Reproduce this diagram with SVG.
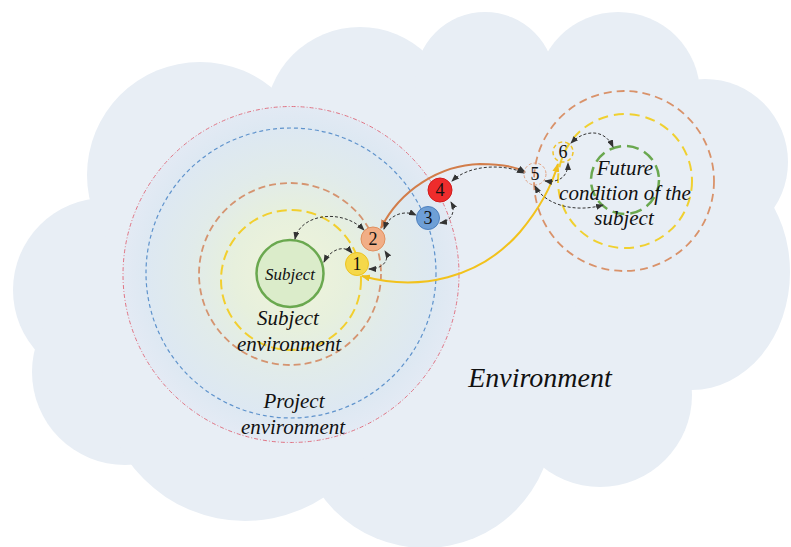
<svg xmlns="http://www.w3.org/2000/svg" width="791" height="547" viewBox="0 0 791 547">
  <style>
    text { font-family: "Liberation Serif", "Tinos", "Times New Roman", "DejaVu Serif", serif; }
    .lbl { font-style: italic; fill: #111; text-anchor: middle; }
    .num { font-size: 18px; fill: #111; text-anchor: middle; }
    .ring { fill: none; }
    .link { fill: none; stroke: #333; stroke-width: 1; stroke-dasharray: 3 2; marker-start: url(#ahDark); marker-end: url(#ahDark); }
  </style>
  <defs>
    <radialGradient id="projFill" cx="292" cy="272" r="168" gradientUnits="userSpaceOnUse">
      <stop offset="0" stop-color="#f0f4da"/>
      <stop offset="0.35" stop-color="#e7f0dd"/>
      <stop offset="0.6" stop-color="#e1ebea"/>
      <stop offset="0.86" stop-color="#dde8f2"/>
      <stop offset="1" stop-color="#e3eaf4"/>
    </radialGradient>
    <marker id="ahDark" markerUnits="userSpaceOnUse" markerWidth="8" markerHeight="6" refX="7" refY="3" orient="auto-start-reverse">
      <path d="M0,0 L8,3 L0,6 z" fill="#333"/>
    </marker>
    <marker id="ahOrange" markerUnits="userSpaceOnUse" markerWidth="9" markerHeight="7" refX="8" refY="3.5" orient="auto-start-reverse">
      <path d="M0,0 L9,3.5 L0,7 z" fill="#d27d4a"/>
    </marker>
    <marker id="ahYellow" markerUnits="userSpaceOnUse" markerWidth="9" markerHeight="7" refX="8" refY="3.5" orient="auto-start-reverse">
      <path d="M0,0 L9,3.5 L0,7 z" fill="#efbf1c"/>
    </marker>
  </defs>

  <rect width="791" height="547" fill="#ffffff"/>

  <!-- environment cloud: union of overlapping lobes -->
  <g id="environment" fill="#e8eef5">
    <ellipse cx="420" cy="280" rx="320" ry="200"/>
    <circle cx="105" cy="290" r="92"/>
    <circle cx="125" cy="372" r="93"/>
    <circle cx="200" cy="175" r="113"/>
    <circle cx="360" cy="122" r="95"/>
    <circle cx="485" cy="82" r="70"/>
    <circle cx="618" cy="94" r="82"/>
    <circle cx="705" cy="162" r="83"/>
    <ellipse cx="692" cy="272" rx="98" ry="118"/>
    <circle cx="600" cy="395" r="92"/>
    <circle cx="425" cy="420" r="128"/>
    <circle cx="245" cy="378" r="143"/>
  </g>
  <text class="lbl" x="540" y="387" font-size="28">Environment</text>

  <!-- project environment with nested subject rings -->
  <g id="project-environment">
    <circle cx="291" cy="274.5" r="168" fill="url(#projFill)" stroke="#e07484" stroke-width="1" stroke-dasharray="4 2 1 2"/>
    <circle class="ring" cx="291" cy="273" r="145" stroke="#5f93cc" stroke-width="1.2" stroke-dasharray="4 3"/>
    <text class="lbl" x="294" y="408" font-size="21">Project</text>
    <text class="lbl" x="293" y="434" font-size="21">environment</text>
  </g>

  <g id="subject-environment">
    <circle class="ring" cx="290" cy="274" r="91" stroke="#d59470" stroke-width="1.8" stroke-dasharray="7 4"/>
    <circle class="ring" cx="291" cy="280" r="70" stroke="#f2cf2e" stroke-width="2" stroke-dasharray="10 5"/>
    <text class="lbl" x="288" y="325" font-size="21">Subject</text>
    <text class="lbl" x="289" y="351" font-size="21">environment</text>
  </g>

  <g id="subject">
    <circle cx="290" cy="273.5" r="33.5" fill="#dbecca" stroke="#6aa84f" stroke-width="2.5"/>
    <text class="lbl" x="290" y="280" font-size="17">Subject</text>
  </g>

  <!-- future state of the subject -->
  <g id="future-condition">
    <circle class="ring" cx="624" cy="181" r="90" stroke="#d9926a" stroke-width="1.8" stroke-dasharray="8 5"/>
    <circle class="ring" cx="625" cy="181" r="67" stroke="#f0d030" stroke-width="2" stroke-dasharray="10 6"/>
    <circle class="ring" cx="625" cy="180" r="34" stroke="#6aa84f" stroke-width="2.5" stroke-dasharray="12 6"/>
    <text class="lbl" x="625" y="175" font-size="21">Future</text>
    <text class="lbl" x="625" y="200" font-size="21">condition of the</text>
    <text class="lbl" x="624" y="225" font-size="21">subject</text>
  </g>

  <!-- connectors -->
  <g id="connectors">
    <path d="M362 276 C420 292 480 278 520 232 C540 208 552 185 558 164" fill="none" stroke="#f2c21c" stroke-width="2" marker-start="url(#ahYellow)" marker-end="url(#ahYellow)"/>
    <path d="M381 228 C400 190 440 165 480 164 C505 164 518 168 525 172" fill="none" stroke="#d27d4a" stroke-width="2" marker-start="url(#ahOrange)" marker-end="url(#ahDark)"/>
    <path class="link" d="M295 239 C300 214 342 208 364 230"/>
    <path class="link" d="M324 262 C330 250 344 244 352 253"/>
    <path class="link" d="M369 269 C384 269 390 259 385 251"/>
    <path class="link" d="M384 229 C389 214 405 210 416 215"/>
    <path class="link" d="M440 223 C452 221 456 211 451 202"/>
    <path class="link" d="M452 181 C470 164 505 164 524 173"/>
    <path class="link" d="M545 181 C560 183 568 176 568 163"/>
    <path class="link" d="M571 143 C585 129 605 129 613 147"/>
    <path class="link" d="M535 186 C545 205 575 213 603 205"/>
  </g>

  <!-- interaction points -->
  <g id="node-1">
    <circle cx="357" cy="264" r="11.5" fill="#f5d84a" stroke="#ecc322" stroke-width="1"/>
    <text class="num" x="357" y="270">1</text>
  </g>
  <g id="node-2">
    <circle cx="373" cy="239" r="12" fill="#f1ae86" stroke="#e0905e" stroke-width="1"/>
    <text class="num" x="373" y="245">2</text>
  </g>
  <g id="node-3">
    <circle cx="428" cy="218" r="11.5" fill="#6e9fd6" stroke="#4d80bf" stroke-width="1"/>
    <text class="num" x="428" y="224">3</text>
  </g>
  <g id="node-4">
    <circle cx="440" cy="190" r="12" fill="#ee2c2c" stroke="#d21c1c" stroke-width="1"/>
    <text class="num" x="440" y="196">4</text>
  </g>
  <g id="node-5">
    <circle cx="535" cy="174" r="11" fill="none" stroke="#e2a283" stroke-width="1" stroke-dasharray="3 2"/>
    <text class="num" x="535" y="180">5</text>
  </g>
  <g id="node-6">
    <circle cx="563" cy="152" r="10" fill="none" stroke="#f0c428" stroke-width="1.5" stroke-dasharray="4 3"/>
    <text class="num" x="563" y="158">6</text>
  </g>
</svg>
